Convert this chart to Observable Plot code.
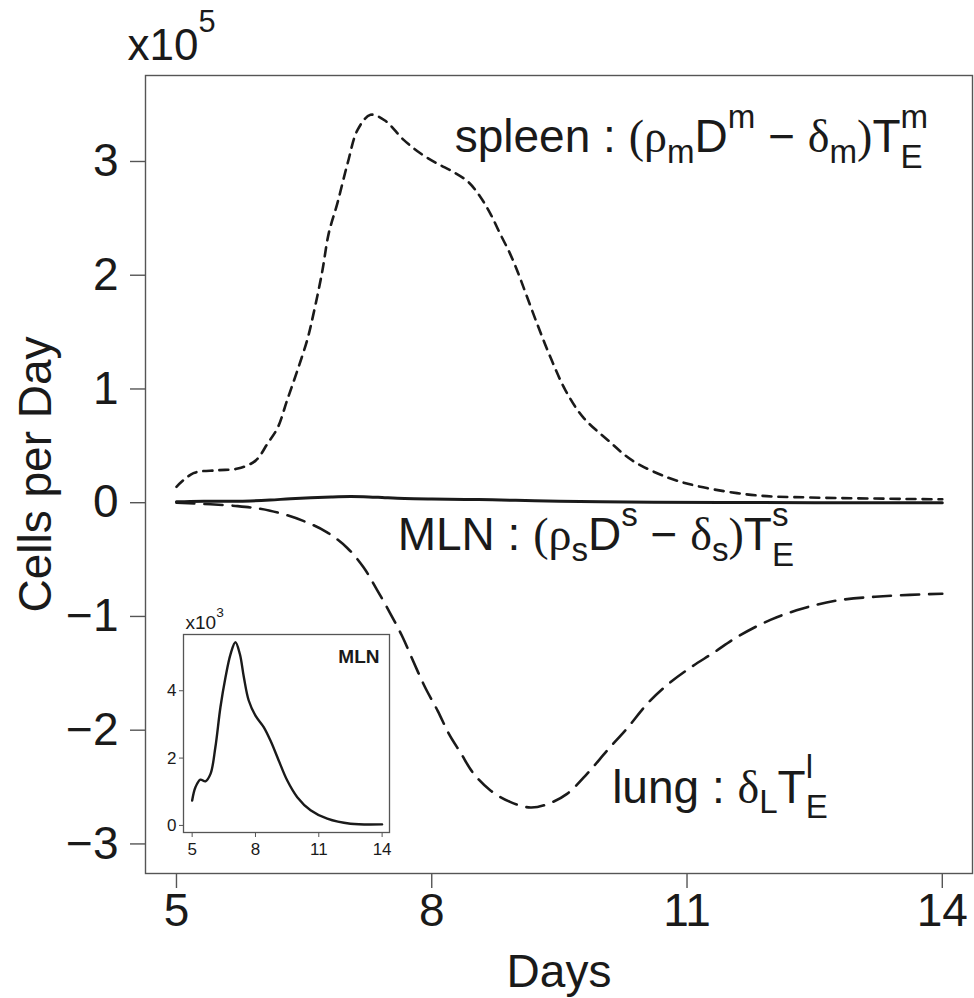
<!DOCTYPE html>
<html>
<head>
<meta charset="utf-8">
<script src="https://cdn.jsdelivr.net/npm/d3@7"></script>
<script src="https://cdn.jsdelivr.net/npm/@observablehq/plot@0.6"></script>
<style>
  html, body { margin: 0; padding: 0; background: white; }
  #wrap { position: relative; width: 974px; height: 998px; }
  #inset { position: absolute; left: 130px; top: 600px; }
</style>
</head>
<body>
<div id="wrap"><div id="main"></div><div id="inset"></div></div>
<script>
// ---- data (main panel, units of 1e5 cells/day) ----
const spleenDays = [5.0, 5.2, 5.48, 5.72, 5.93, 6.07, 6.19, 6.30, 6.42, 6.54, 6.61, 6.71, 6.79, 6.89, 7.01, 7.13, 7.28, 7.45, 7.67, 7.87, 8.07, 8.25, 8.43, 8.57, 8.69, 8.80, 8.92, 9.02, 9.10, 9.24, 9.40, 9.57, 9.78, 10.07, 10.36, 10.78, 11.19, 11.82, 12.44, 14.0];
const spleenValues = [0.14, 0.26, 0.285, 0.30, 0.37, 0.52, 0.66, 0.90, 1.16, 1.44, 1.66, 2.02, 2.37, 2.63, 2.98, 3.28, 3.41, 3.36, 3.19, 3.07, 2.98, 2.91, 2.82, 2.69, 2.54, 2.37, 2.19, 2.01, 1.85, 1.57, 1.27, 0.99, 0.75, 0.55, 0.37, 0.22, 0.135, 0.064, 0.046, 0.03];

const lungDays = [5.0, 5.72, 6.10, 6.49, 6.77, 7.01, 7.20, 7.36, 7.51, 7.65, 7.78, 7.92, 8.07, 8.20, 8.34, 8.49, 8.69, 8.92, 9.16, 9.36, 9.59, 9.83, 10.06, 10.30, 10.53, 10.77, 11.04, 11.31, 11.59, 11.98, 12.36, 12.76, 13.35, 14.0];
const lungValues = [0, -0.03, -0.07, -0.16, -0.26, -0.40, -0.57, -0.77, -0.97, -1.17, -1.39, -1.62, -1.83, -2.03, -2.20, -2.38, -2.53, -2.63, -2.68, -2.65, -2.56, -2.38, -2.18, -1.98, -1.77, -1.60, -1.45, -1.32, -1.18, -1.03, -0.93, -0.86, -0.82, -0.80];

// MLN (units of 1e3 cells/day), shown in the inset and, rescaled to 1e5, in the main panel
const mlnDays = [5.0, 5.16, 5.39, 5.63, 5.87, 6.10, 6.34, 6.58, 6.82, 7.05, 7.26, 7.45, 7.68, 8.0, 8.39, 8.71, 9.10, 9.50, 9.98, 10.61, 11.40, 12.5, 14.0];
const mlnValues = [0.74, 1.14, 1.36, 1.31, 1.53, 2.32, 3.51, 4.40, 5.09, 5.44, 5.09, 4.40, 3.71, 3.26, 2.92, 2.52, 1.93, 1.34, 0.84, 0.45, 0.20, 0.05, 0.03];

const xTicks = [5, 8, 11, 14];
const yTicks = [-3, -2, -1, 0, 1, 2, 3];
const insetYTicks = [0, 2, 4];

const labelKeys = ["spleen_label", "mln_label", "lung_label"];
const labelDays = [8.27, 7.6, 10.12];
const labelValues = [3.08, -0.42, -2.64];

// ---- tables ----
const spleen = spleenDays.map((d, i) => ({day: d, v: spleenValues[i]}));
const lung = lungDays.map((d, i) => ({day: d, v: lungValues[i]}));
const mln = mlnDays.map((d, i) => ({day: d, v: mlnValues[i]}));
const mlnMain = mln.map(p => ({day: p.day, v: p.v / 100}));
const labels = labelKeys.map((k, i) => ({key: k, day: labelDays[i], v: labelValues[i]}));

const SANS = "Liberation Sans, Arial, Helvetica, sans-serif";
const SERIF = "Liberation Serif, Times New Roman, serif";
const INK = "#1a1a1a";
const AXIS = "#555";

const main = Plot.plot({
  width: 974, height: 998,
  marginLeft: 145, marginRight: 2, marginTop: 75, marginBottom: 125,
  x: {domain: [4.636, 14.355]},
  y: {domain: [-3.26, 3.756]},
  style: {fontFamily: SANS, fontSize: "46px", color: INK, background: "white", overflow: "visible"},
  marks: [
    Plot.frame({stroke: AXIS, strokeWidth: 1.4}),
    Plot.axisX({ticks: xTicks, tickFormat: "d", tickSize: 15, tickPadding: 5, label: null, stroke: AXIS, strokeWidth: 1.4, fill: INK, fontSize: 46}),
    Plot.axisY({ticks: yTicks, tickFormat: "d", tickSize: 15, tickPadding: 12, label: null, stroke: AXIS, strokeWidth: 1.4, fill: INK, fontSize: 46}),
    Plot.line(spleen, {x: "day", y: "v", curve: "catmull-rom", stroke: INK, strokeWidth: 2.6, strokeDasharray: "9,7"}),
    Plot.line(lung, {x: "day", y: "v", curve: "catmull-rom", stroke: INK, strokeWidth: 2.6, strokeDasharray: "18,10"}),
    Plot.line(mlnMain, {x: "day", y: "v", curve: "catmull-rom", stroke: INK, strokeWidth: 3}),
    Plot.text(labels, {x: "day", y: "v", text: "key", textAnchor: "start", lineAnchor: "bottom", fontSize: 46, fill: INK}),
    Plot.text(["x10_5"], {frameAnchor: "top-left", dx: -18, dy: -16, textAnchor: "start", lineAnchor: "bottom", fontSize: 44, fill: INK}),
    Plot.text(["Cells per Day"], {frameAnchor: "left", dx: -95, rotate: -90, textAnchor: "middle", lineAnchor: "bottom", fontSize: 46, fill: INK}),
    Plot.text(["Days"], {frameAnchor: "bottom", dy: 113, textAnchor: "middle", lineAnchor: "bottom", fontSize: 46, fill: INK})
  ]
});
document.getElementById("main").appendChild(main);

const inset = Plot.plot({
  width: 270, height: 270,
  marginLeft: 53, marginRight: 11, marginTop: 34, marginBottom: 38,
  x: {domain: [4.59, 14.35]},
  y: {domain: [-0.21, 5.67]},
  style: {fontFamily: SANS, fontSize: "17px", color: INK, background: "transparent", overflow: "visible"},
  marks: [
    Plot.frame({fill: "white", stroke: AXIS, strokeWidth: 1.3}),
    Plot.axisX({ticks: xTicks, tickFormat: "d", tickSize: 5, tickPadding: 5, label: null, stroke: AXIS, fill: INK, fontSize: 17}),
    Plot.axisY({ticks: insetYTicks, tickFormat: "d", tickSize: 4, tickPadding: 3, label: null, stroke: AXIS, fill: INK, fontSize: 17}),
    Plot.line(mln, {x: "day", y: "v", curve: "catmull-rom", stroke: INK, strokeWidth: 2.4}),
    Plot.text(["MLN"], {frameAnchor: "top-right", dx: -10, dy: 28, textAnchor: "end", lineAnchor: "bottom", fontSize: 19, fontWeight: "bold", fill: INK}),
    Plot.text(["x10_3"], {frameAnchor: "top-left", dx: 2, dy: -6, textAnchor: "start", lineAnchor: "bottom", fontSize: 19, fill: INK})
  ]
});
document.getElementById("inset").appendChild(inset);

// ---- rich (sub/superscript) text ----
const S = (t) => [t, "n"];
const specs = {
  spleen_label: {size: 46, segs: [S("spleen : "), ["(", "n", SERIF], ["ρ", "n", SERIF], ["m", "sub"], S("D"), ["m", "sup"], S(" − "), ["δ", "n", SERIF], ["m", "sub"], [")", "n", SERIF], S("T"), ["m", "supstack"], ["E", "sub2"]]},
  mln_label: {size: 46, segs: [S("MLN : "), ["(", "n", SERIF], ["ρ", "n", SERIF], ["s", "sub"], S("D"), ["s", "sup"], S(" − "), ["δ", "n", SERIF], ["s", "sub"], [")", "n", SERIF], S("T"), ["s", "supstack"], ["E", "sub2"]]},
  lung_label: {size: 46, segs: [S("lung : "), ["δ", "n", SERIF], ["L", "sub"], S("T"), ["l", "supstack"], ["E", "sub2"]]},
  x10_5: {size: 44, small: 0.7, sup: -0.62, segs: [S("x10"), ["5", "sup"]]},
  x10_3: {size: 19, small: 0.72, sup: -0.62, segs: [S("x10"), ["3", "sup"]]}
};
function richify(svg) {
  svg.querySelectorAll("text").forEach(t => {
    const spec = specs[t.textContent];
    if (!spec) return;
    const size = spec.size, small = spec.small || 0.72;
    const supShift = (spec.sup || -0.54) * size, subShift = 0.22 * size, sub2Shift = 0.33 * size;
    while (t.firstChild) t.removeChild(t.firstChild);
    let cur = 0, prevSup = null;
    for (const [s, k, fam] of spec.segs) {
      const ts = document.createElementNS("http://www.w3.org/2000/svg", "tspan");
      ts.textContent = s;
      const shift = (k === "sup" || k === "supstack") ? supShift : k === "sub" ? subShift : k === "sub2" ? sub2Shift : 0;
      ts.setAttribute("dy", shift - cur);
      cur = shift;
      if (k !== "n") ts.setAttribute("font-size", small * size);
      if (fam) ts.setAttribute("font-family", fam);
      t.appendChild(ts);
      if (k === "sub2" && prevSup) ts.setAttribute("dx", -prevSup.getComputedTextLength());
      prevSup = k === "supstack" ? ts : null;
    }
  });
}
richify(main);
richify(inset);
</script>
</body>
</html>
